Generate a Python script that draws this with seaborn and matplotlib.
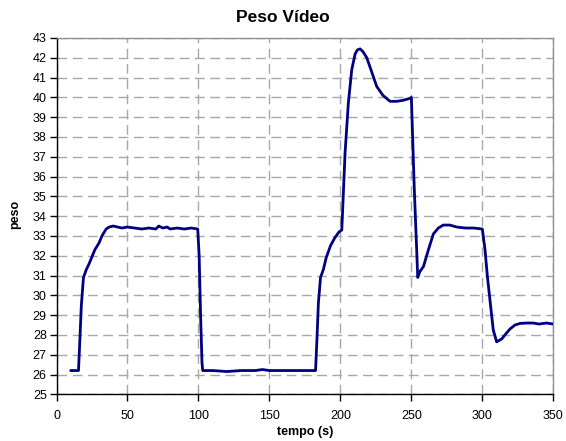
import matplotlib
matplotlib.use("Agg")
import matplotlib.pyplot as plt
import seaborn as sns
import pandas as pd

tempo = [10, 15.5, 16.5, 17.5, 19, 21, 23, 25, 27, 30, 32, 35, 37, 40, 43, 46, 50, 55, 60, 65,
         70, 72, 75, 78, 80, 85, 90, 95, 99.5, 100.5, 101.5, 102.5, 103, 110, 120, 130, 140, 145,
         150, 160, 170, 182.5, 183.5, 184.5, 186, 188, 190, 193, 196, 199, 201, 202, 203.3, 205.6,
         208, 210.4, 212, 213.9, 216, 218.6, 222, 225.6, 230, 235, 239.7, 244, 249, 250, 252,
         254.5, 256, 258.5, 262, 265.5, 269, 272.5, 277, 282, 288, 294, 300, 301.9, 303.5, 305.4,
         307.7, 310.1, 313.7, 316.5, 319.5, 323, 326.6, 331, 335.9, 340, 345, 350]
peso = [26.2, 26.2, 27.8, 29.5, 30.9, 31.3, 31.6, 31.95, 32.3, 32.65, 33.0, 33.35, 33.45, 33.5,
        33.45, 33.4, 33.45, 33.4, 33.35, 33.4, 33.35, 33.5, 33.4, 33.45, 33.35, 33.4, 33.35, 33.4,
        33.35, 32.0, 29.0, 26.6, 26.2, 26.2, 26.15, 26.2, 26.2, 26.25, 26.2, 26.2, 26.2, 26.2,
        27.8, 29.6, 30.9, 31.3, 31.9, 32.5, 32.9, 33.2, 33.3, 35.0, 37.2, 39.7, 41.4, 42.2, 42.4,
        42.45, 42.3, 42.0, 41.3, 40.55, 40.1, 39.8, 39.8, 39.85, 39.95, 40.0, 35.5, 30.9, 31.2,
        31.45, 32.3, 33.1, 33.4, 33.55, 33.55, 33.45, 33.4, 33.4, 33.35, 32.3, 31.0, 29.75, 28.25,
        27.65, 27.8, 28.05, 28.3, 28.5, 28.58, 28.6, 28.6, 28.55, 28.6, 28.55]

x_ticks = list(range(0, 351, 50))
y_ticks = list(range(25, 44, 1))

sns.set_theme(style="white")
plt.rcParams['font.family'] = ['Liberation Sans', 'DejaVu Sans']

df = pd.DataFrame({"tempo": tempo, "peso": peso})

fig = plt.figure(figsize=(5.66, 4.41), dpi=100)
ax = fig.add_axes([56.5 / 566, 1 - 394.3 / 441, (553.3 - 56.5) / 566, (394.3 - 38.0) / 441])

sns.lineplot(data=df, x="tempo", y="peso", ax=ax, sort=False, estimator=None,
             color="#000080", linewidth=2.0, zorder=3)

ax.set_xlim(0, 350)
ax.set_ylim(25, 43)
ax.set_xticks(x_ticks)
ax.set_yticks(y_ticks)
ax.tick_params(axis="both", direction="out", length=5, width=1, color="black",
               labelcolor="black", labelsize=9, pad=2, left=True, bottom=True)
ax.tick_params(axis="x", pad=6)
ax.grid(True, color="#a8a8a8", linestyle=(0, (7, 4)), linewidth=1)
ax.set_axisbelow(True)

for s in ["left", "bottom"]:
    ax.spines[s].set_color("black")
    ax.spines[s].set_linewidth(1)
for s in ["top", "right"]:
    ax.spines[s].set_color("#909090")
    ax.spines[s].set_linewidth(1)

ax.set_xlabel("")
ax.set_ylabel("")
fig.text(305 / 566, 1 - 432 / 441, "tempo (s)", ha="center", va="center",
         fontsize=9, fontweight="bold", color="black")
fig.text(15 / 566, 1 - 214 / 441, "peso", ha="center", va="center", rotation=90,
         fontsize=9, fontweight="bold", color="black")
fig.text(0.5, 1 - 18 / 441, "Peso Vídeo", ha="center", va="center",
         fontsize=12.5, fontweight="bold", color="black")

fig.savefig("out.png", dpi=100)
